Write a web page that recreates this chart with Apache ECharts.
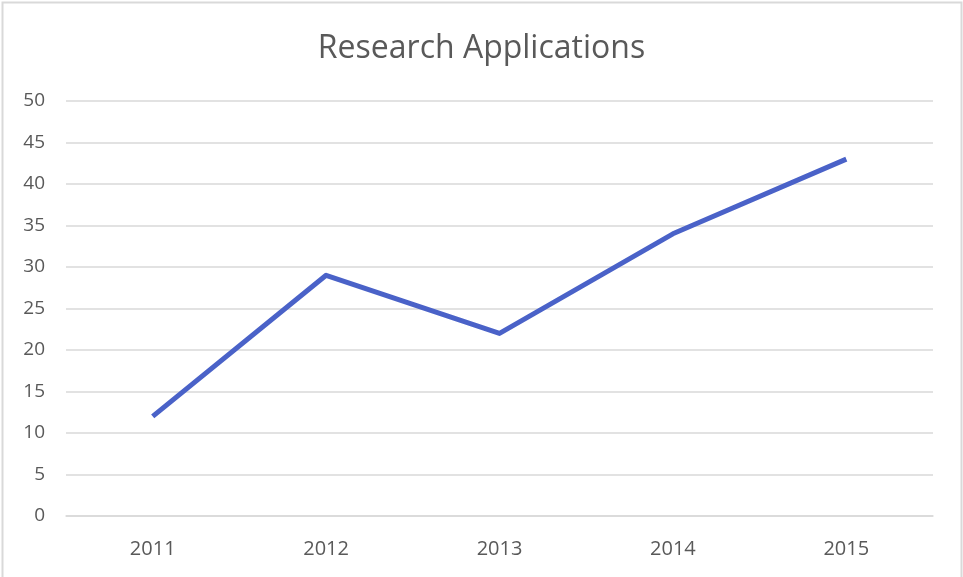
<html>
<head>
<meta charset="UTF-8" />
<script src="https://cdn.jsdelivr.net/npm/echarts@6/dist/echarts.min.js"></script>
</head>
<style type="text/css">
    *{
        margin: 0;
        padding: 0;
    }
    body{
        background: #ffffff;
    }
    #chart{
        width: 963px;
        height: 577px;
    }
</style>
<body>
<div id="chart"></div>
<script type="text/javascript">
    // data
    var years = ['2011', '2012', '2013', '2014', '2015'];
    var applications = [12, 29, 22, 34, 43];

    var myChart = echarts.init(document.getElementById('chart'));
    var option = {
        animation: false,
        textStyle: {
            fontFamily: 'Open Sans'
        },
        title: {
            text: 'Research Applications',
            left: 'center',
            top: 28,
            textStyle: {
                color: '#595959',
                fontSize: 32,
                fontWeight: 'normal',
                fontFamily: 'Open Sans'
            }
        },
        graphic: [{
            type: 'rect',
            shape: { x: 2.5, y: 2.5, width: 959, height: 590 },
            style: { fill: 'none', stroke: '#d9d9d9', lineWidth: 2 },
            silent: true
        }],
        grid: {
            left: 66,
            right: 30,
            top: 101,
            bottom: 61
        },
        xAxis: {
            type: 'category',
            data: years,
            boundaryGap: true,
            axisLine: { lineStyle: { color: '#d9d9d9', width: 1.5 } },
            axisTick: { show: false },
            axisLabel: {
                color: '#595959',
                fontSize: 20,
                margin: 23
            }
        },
        yAxis: {
            type: 'value',
            min: 0,
            max: 50,
            interval: 5,
            axisLine: { show: false },
            axisTick: { show: false },
            splitLine: { lineStyle: { color: '#d9d9d9', width: 1.5 } },
            axisLabel: {
                color: '#595959',
                fontSize: 19,
                margin: 21
            }
        },
        series: [{
            type: 'line',
            data: applications,
            symbol: 'none',
            lineStyle: {
                color: '#4A62C8',
                width: 5,
                join: 'round'
            }
        }]
    };
    myChart.setOption(option);
</script>
</body>
</html>
